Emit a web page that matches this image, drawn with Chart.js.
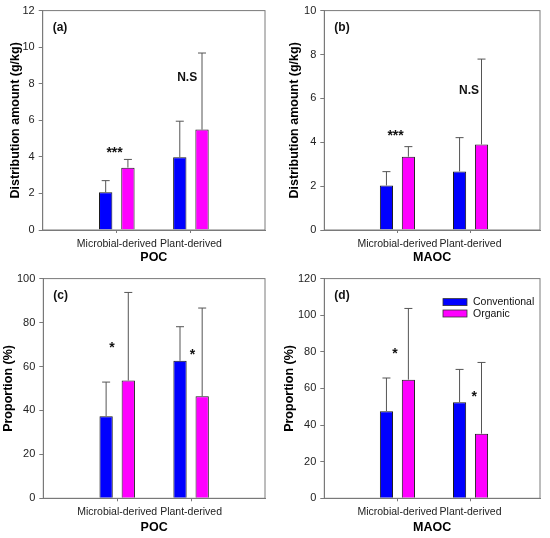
<!DOCTYPE html>
<html>
<head>
<meta charset="utf-8">
<script src="https://cdn.jsdelivr.net/npm/chart.js@4.4.0/dist/chart.umd.min.js"></script>
<style>
  html, body { margin: 0; padding: 0; background: #fff; }
  #wrap { position: relative; width: 550px; height: 538px; }
  #wrap canvas { position: absolute; }
</style>
</head>
<body>
<div id="wrap">
  <canvas id="panelA" width="275" height="268" style="left:0;top:0"></canvas>
  <canvas id="panelB" width="275" height="268" style="left:275px;top:0"></canvas>
  <canvas id="panelC" width="275" height="270" style="left:0;top:268px"></canvas>
  <canvas id="panelD" width="275" height="270" style="left:275px;top:268px"></canvas>
</div>
<script>
// categories and series
const categories = ['Microbial-derived', 'Plant-derived'];
const seriesNames = ['Conventional', 'Organic'];
const seriesColors = ['#0000ff', '#ff00ff'];

// (a) POC distribution amount (g/kg)
const pocAmountConv = [2.06, 3.98];
const pocAmountConvErr = [0.64, 1.97];
const pocAmountOrg = [3.41, 5.49];
const pocAmountOrgErr = [0.45, 4.19];

// (b) MAOC distribution amount (g/kg)
const maocAmountConv = [2.03, 2.67];
const maocAmountConvErr = [0.63, 1.54];
const maocAmountOrg = [3.34, 3.90];
const maocAmountOrgErr = [0.46, 3.89];

// (c) POC proportion (%)
const pocPropConv = [37.4, 62.6];
const pocPropConvErr = [15.5, 15.5];
const pocPropOrg = [53.6, 46.4];
const pocPropOrgErr = [40.1, 40.2];

// (d) MAOC proportion (%)
const maocPropConv = [47.6, 52.5];
const maocPropConvErr = [18.1, 17.9];
const maocPropOrg = [64.8, 35.3];
const maocPropOrgErr = [38.9, 38.9];

// significance marks (text, x in category units, y in value units)
const marksA = ['***', 'N.S'];
const marksAx = [0.97, 1.95];
const marksAy = [4.37, 8.35];
const marksB = ['***', 'N.S'];
const marksBx = [0.975, 1.98];
const marksBy = [4.43, 6.35];
const marksC = ['*', '*'];
const marksCx = [0.93, 2.02];
const marksCy = [70.1, 66.8];
const marksD = ['*', '*'];
const marksDx = [0.966, 2.05];
const marksDy = [80.5, 57.3];

Chart.defaults.font.family = "'Liberation Sans', Arial, sans-serif";
Chart.defaults.color = '#222';

const axisGray = '#7a7a7a';

// error bars on top of each bar (upper side only)
const errorBars = {
    id: 'errorBars',
    afterDatasetsDraw(chart) {
        const ctx = chart.ctx;
        const yScale = chart.scales.y;
        chart.data.datasets.forEach((ds, di) => {
            const meta = chart.getDatasetMeta(di);
            meta.data.forEach((bar, i) => {
                const topY = yScale.getPixelForValue(ds.data[i].y + ds.errors[i]);
                ctx.save();
                ctx.strokeStyle = '#555';
                ctx.lineWidth = 1;
                ctx.beginPath();
                ctx.moveTo(bar.x, bar.y);
                ctx.lineTo(bar.x, topY);
                ctx.moveTo(bar.x - 4, topY);
                ctx.lineTo(bar.x + 4, topY);
                ctx.stroke();
                ctx.restore();
            });
        });
    }
};

// significance text above the bars
const sigMarks = {
    id: 'sigMarks',
    afterDatasetsDraw(chart, args, opts) {
        if (!opts.text) return;
        const ctx = chart.ctx;
        ctx.save();
        ctx.fillStyle = '#111';
        ctx.textAlign = 'center';
        ctx.textBaseline = 'middle';
        opts.text.forEach((t, i) => {
            const px = chart.scales.x.getPixelForValue(opts.x[i]);
            let py = chart.scales.y.getPixelForValue(opts.y[i]);
            if (t.charAt(0) === '*') {
                // asterisks are a bit bigger and sit high in the em box
                ctx.font = "bold 14px 'Liberation Sans', Arial, sans-serif";
                py += 3.5;
            } else {
                ctx.font = "bold 12px 'Liberation Sans', Arial, sans-serif";
            }
            ctx.fillText(t, px, py);
        });
        ctx.restore();
    }
};

// box round the plot, panel tag and the legend
const frame = {
    id: 'frame',
    afterDraw(chart, args, opts) {
        const ctx = chart.ctx;
        const a = chart.chartArea;
        ctx.save();
        ctx.strokeStyle = axisGray;
        ctx.lineWidth = 1;
        ctx.strokeRect(a.left, a.top, a.right - a.left, a.bottom - a.top);

        ctx.fillStyle = '#111';
        ctx.font = "bold 12px 'Liberation Sans', Arial, sans-serif";
        ctx.textAlign = 'left';
        ctx.textBaseline = 'middle';
        ctx.fillText(opts.tag, a.left + 10, a.top + 17);

        if (opts.legend) {
            ctx.font = "10.5px 'Liberation Sans', Arial, sans-serif";
            chart.data.datasets.forEach((ds, i) => {
                const bx = a.right - 97;
                const by = a.top + 20 + i * 11.4;
                ctx.fillStyle = ds.backgroundColor;
                ctx.fillRect(bx, by, 24, 7);
                ctx.strokeStyle = '#333';
                ctx.lineWidth = 0.8;
                ctx.strokeRect(bx, by, 24, 7);
                ctx.fillStyle = '#111';
                ctx.fillText(ds.label, bx + 30, by + 3.8);
            });
        }
        ctx.restore();
    }
};

function toPoints(values) {
    return values.map((v, i) => ({ x: i + 1, y: v }));
}

function makePanel(id, p) {
    const ctx = document.getElementById(id).getContext('2d');
    return new Chart(ctx, {
        type: 'bar',
        data: {
            datasets: [
                {
                    label: seriesNames[0],
                    data: toPoints(p.conv),
                    errors: p.convErr,
                    backgroundColor: seriesColors[0],
                    borderColor: '#1a1a1a',
                    borderWidth: 1
                },
                {
                    label: seriesNames[1],
                    data: toPoints(p.org),
                    errors: p.orgErr,
                    backgroundColor: seriesColors[1],
                    borderColor: '#1a1a1a',
                    borderWidth: 1
                }
            ]
        },
        options: {
            responsive: false,
            animation: false,
            layout: { padding: { top: p.top, right: 10, bottom: p.bottom, left: 0 } },
            datasets: { bar: { categoryPercentage: 0.6, barPercentage: 0.6 } },
            plugins: {
                legend: { display: false },
                tooltip: { enabled: false },
                sigMarks: { text: p.marks, x: p.marksX, y: p.marksY },
                frame: { tag: p.tag, legend: !!p.legend }
            },
            scales: {
                x: {
                    type: 'linear',
                    min: 0,
                    max: p.xMax,
                    offset: false,
                    afterBuildTicks: axis => {
                        axis.ticks = categories.map((c, i) => ({ value: i + 1 }));
                    },
                    afterFit: axis => { axis.height = p.xHeight; },
                    ticks: {
                        callback: v => categories[v - 1],
                        autoSkip: false,
                        maxRotation: 0,
                        minRotation: 0,
                        padding: p.tickPad,
                        color: '#222',
                        font: { size: 10.5 }
                    },
                    grid: { offset: false, drawOnChartArea: false, drawTicks: true, tickLength: 3, color: axisGray },
                    border: { color: axisGray },
                    title: {
                        display: true,
                        text: p.xTitle,
                        color: '#000',
                        font: { size: 12.5, weight: 'bold' },
                        padding: { top: 0, bottom: 0 }
                    }
                },
                y: {
                    min: 0,
                    max: p.yMax,
                    ticks: { stepSize: p.yStep, padding: 4, color: '#222', font: { size: 11 } },
                    grid: { drawOnChartArea: false, drawTicks: true, tickLength: 4, color: axisGray },
                    border: { color: axisGray },
                    afterFit: axis => { axis.width = p.yWidth; },
                    title: {
                        display: true,
                        text: p.yTitle,
                        color: '#000',
                        font: { size: 12.5, weight: 'bold' },
                        padding: { top: p.yTitlePad, bottom: 0 }
                    }
                }
            }
        },
        plugins: [errorBars, sigMarks, frame]
    });
}

makePanel('panelA', {
    tag: '(a)', conv: pocAmountConv, convErr: pocAmountConvErr, org: pocAmountOrg, orgErr: pocAmountOrgErr,
    yMax: 12, yStep: 2, yTitle: 'Distribution amount (g/kg)', xTitle: 'POC', xMax: 3,
    yWidth: 42.7, yTitlePad: 7.8, top: 9, bottom: 2.5, xHeight: 35.5, tickPad: 5,
    marks: marksA, marksX: marksAx, marksY: marksAy
});
makePanel('panelB', {
    tag: '(b)', conv: maocAmountConv, convErr: maocAmountConvErr, org: maocAmountOrg, orgErr: maocAmountOrgErr,
    yMax: 10, yStep: 2, yTitle: 'Distribution amount (g/kg)', xTitle: 'MAOC', xMax: 2.95,
    yWidth: 49.3, yTitlePad: 11.8, top: 9, bottom: 2.5, xHeight: 35.5, tickPad: 5,
    marks: marksB, marksX: marksBx, marksY: marksBy
});
makePanel('panelC', {
    tag: '(c)', conv: pocPropConv, convErr: pocPropConvErr, org: pocPropOrg, orgErr: pocPropOrgErr,
    yMax: 100, yStep: 20, yTitle: 'Proportion (%)', xTitle: 'POC', xMax: 3,
    yWidth: 43.3, yTitlePad: 1.2, top: 9.3, bottom: 2.5, xHeight: 37.2, tickPad: 4.7,
    marks: marksC, marksX: marksCx, marksY: marksCy
});
makePanel('panelD', {
    tag: '(d)', conv: maocPropConv, convErr: maocPropConvErr, org: maocPropOrg, orgErr: maocPropOrgErr,
    yMax: 120, yStep: 20, yTitle: 'Proportion (%)', xTitle: 'MAOC', xMax: 2.95,
    yWidth: 49.3, yTitlePad: 7.5, top: 9.3, bottom: 2.5, xHeight: 37.2, tickPad: 4.7,
    marks: marksD, marksX: marksDx, marksY: marksDy, legend: true
});
</script>
</body>
</html>
